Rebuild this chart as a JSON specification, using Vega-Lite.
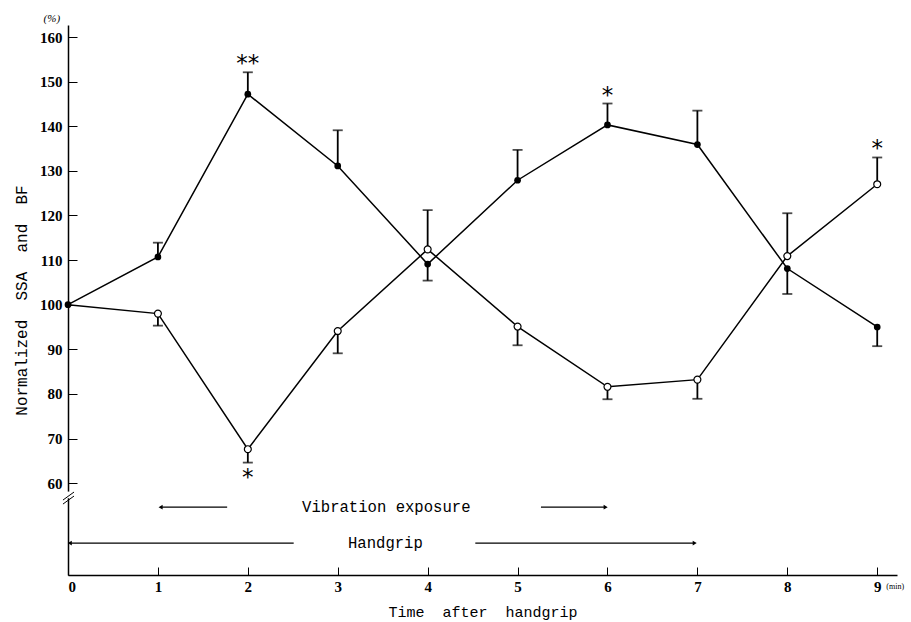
{
  "$schema": "https://vega.github.io/schema/vega-lite/v6.json",
  "width": 829,
  "height": 550,
  "autosize": {"type": "none"},
  "padding": {"left": 68, "top": 25, "right": 14, "bottom": 47},
  "background": "white",
  "config": {"view": {"stroke": null}},
  "datasets": {
    "main": [
      {"t": 0, "series": "filled", "v": 100, "e": null},
      {"t": 1, "series": "filled", "v": 110.7, "e": 113.9},
      {"t": 2, "series": "filled", "v": 147.2, "e": 152.1},
      {"t": 3, "series": "filled", "v": 131.1, "e": 139.1},
      {"t": 4, "series": "filled", "v": 109.1, "e": 105.4},
      {"t": 5, "series": "filled", "v": 127.9, "e": 134.7},
      {"t": 6, "series": "filled", "v": 140.3, "e": 145.1},
      {"t": 7, "series": "filled", "v": 135.9, "e": 143.5},
      {"t": 8, "series": "filled", "v": 108.1, "e": 102.4},
      {"t": 9, "series": "filled", "v": 95.0, "e": 90.7},
      {"t": 0, "series": "open", "v": 100, "e": null},
      {"t": 1, "series": "open", "v": 98.0, "e": 95.3},
      {"t": 2, "series": "open", "v": 67.6, "e": 64.6},
      {"t": 3, "series": "open", "v": 94.1, "e": 89.1},
      {"t": 4, "series": "open", "v": 112.4, "e": 121.2},
      {"t": 5, "series": "open", "v": 95.1, "e": 90.9},
      {"t": 6, "series": "open", "v": 81.6, "e": 78.8},
      {"t": 7, "series": "open", "v": 83.2, "e": 78.9},
      {"t": 8, "series": "open", "v": 110.9, "e": 120.5},
      {"t": 9, "series": "open", "v": 127.0, "e": 133.0}
    ],
    "stars": [
      {"x": 2, "y": 155.2, "label": "**"},
      {"x": 6, "y": 148.1, "label": "*"},
      {"x": 9, "y": 136.2, "label": "*"},
      {"x": 2, "y": 62.4, "label": "*"}
    ],
    "labels": [
      {"x": 3.54, "y": 54.6, "label": "Vibration exposure"},
      {"x": 3.53, "y": 46.55, "label": "Handgrip"}
    ],
    "arrows": [
      {"from": 1.77, "to": 1.03, "y": 54.6, "dir": "left"},
      {"from": 5.26, "to": 5.98, "y": 54.6, "dir": "right"},
      {"from": 2.51, "to": 0.02, "y": 46.55, "dir": "left"},
      {"from": 4.53, "to": 6.97, "y": 46.55, "dir": "right"}
    ],
    "breakgap": [{"x": 0, "y": 56.6, "y2": 58.1}],
    "breaklines": [
      {"x": -0.056, "x2": 0.067, "y": 56.2, "y2": 58.0},
      {"x": -0.056, "x2": 0.067, "y": 55.3, "y2": 57.1}
    ],
    "units": [
      {"x": -0.18, "y": 164.0, "label": "(%)"}
    ],
    "minunit": [
      {"x": 9.2, "y": 36.8, "label": "(min)"}
    ]
  },
  "encoding": {
    "x": {
      "type": "quantitative",
      "scale": {"domain": [0, 9.22], "nice": false, "zero": false}
    },
    "y": {
      "type": "quantitative",
      "scale": {"domain": [39.4, 162.7], "nice": false, "zero": false}
    }
  },
  "layer": [
    {
      "data": {"name": "main"},
      "mark": {"type": "line", "color": "black", "strokeWidth": 1.5},
      "encoding": {
        "x": {
          "field": "t", "type": "quantitative",
          "axis": {
            "values": [0, 1, 2, 3, 4, 5, 6, 7, 8, 9],
            "format": "d",
            "grid": false,
            "domainColor": "black", "domainWidth": 1.5,
            "tickColor": "black", "tickSize": -8, "tickWidth": 1,
            "labelFont": "Liberation Serif", "labelFontWeight": "bold", "labelFontSize": 15,
            "labelColor": "black", "labelPadding": 12,
            "title": "Time\u00a0\u00a0after\u00a0\u00a0handgrip",
            "titleFont": "Liberation Mono", "titleFontSize": 15, "titleFontWeight": "normal",
            "titleColor": "black", "titlePadding": 10
          }
        },
        "y": {
          "field": "v", "type": "quantitative",
          "axis": {
            "values": [60, 70, 80, 90, 100, 110, 120, 130, 140, 150, 160],
            "format": "d",
            "grid": false,
            "domainColor": "black", "domainWidth": 1.5,
            "tickColor": "black", "tickSize": -9, "tickWidth": 1,
            "labelFont": "Liberation Serif", "labelFontWeight": "bold", "labelFontSize": 15,
            "labelColor": "black", "labelPadding": 15,
            "title": "Normalized\u00a0\u00a0SSA\u00a0\u00a0and\u00a0\u00a0BF",
            "titleFont": "Liberation Mono", "titleFontSize": 16, "titleFontWeight": "normal",
            "titleColor": "black", "titlePadding": 10
          }
        },
        "detail": {"field": "series"}
      }
    },
    {
      "data": {"name": "main"},
      "transform": [{"filter": "datum.e != null"}],
      "mark": {"type": "rule", "color": "black", "strokeWidth": 1.8},
      "encoding": {
        "x": {"field": "t", "type": "quantitative"},
        "y": {"field": "v", "type": "quantitative"},
        "y2": {"field": "e"}
      }
    },
    {
      "data": {"name": "main"},
      "transform": [{"filter": "datum.e != null"}],
      "mark": {"type": "tick", "orient": "horizontal", "color": "black", "size": 10, "thickness": 1.8},
      "encoding": {
        "x": {"field": "t", "type": "quantitative"},
        "y": {"field": "e", "type": "quantitative"}
      }
    },
    {
      "data": {"name": "main"},
      "transform": [{"filter": "datum.series == 'filled'"}],
      "mark": {"type": "point", "shape": "circle", "filled": true, "color": "black", "size": 45, "opacity": 1},
      "encoding": {
        "x": {"field": "t", "type": "quantitative"},
        "y": {"field": "v", "type": "quantitative"}
      }
    },
    {
      "data": {"name": "main"},
      "transform": [{"filter": "datum.series == 'open' && datum.t > 0"}],
      "mark": {"type": "point", "shape": "circle", "filled": true, "fill": "white", "stroke": "black", "strokeWidth": 1.2, "size": 48, "opacity": 1},
      "encoding": {
        "x": {"field": "t", "type": "quantitative"},
        "y": {"field": "v", "type": "quantitative"}
      }
    },
    {
      "data": {"name": "stars"},
      "mark": {"type": "text", "font": "DejaVu Sans", "fontSize": 23, "color": "black", "baseline": "middle", "align": "center", "dy": 6},
      "encoding": {
        "x": {"field": "x", "type": "quantitative"},
        "y": {"field": "y", "type": "quantitative"},
        "text": {"field": "label"}
      }
    },
    {
      "data": {"name": "labels"},
      "mark": {"type": "text", "font": "Liberation Mono", "fontSize": 15.6, "color": "black", "baseline": "middle", "align": "center"},
      "encoding": {
        "x": {"field": "x", "type": "quantitative"},
        "y": {"field": "y", "type": "quantitative"},
        "text": {"field": "label"}
      }
    },
    {
      "data": {"name": "arrows"},
      "mark": {"type": "rule", "color": "black", "strokeWidth": 1.2},
      "encoding": {
        "x": {"field": "from", "type": "quantitative"},
        "x2": {"field": "to"},
        "y": {"field": "y", "type": "quantitative"}
      }
    },
    {
      "data": {"name": "arrows"},
      "mark": {"type": "point", "filled": true, "color": "black", "size": 22, "opacity": 1},
      "encoding": {
        "x": {"field": "to", "type": "quantitative"},
        "y": {"field": "y", "type": "quantitative"},
        "shape": {
          "field": "dir", "type": "nominal",
          "scale": {"domain": ["left", "right"], "range": ["triangle-left", "triangle-right"]},
          "legend": null
        }
      }
    },
    {
      "data": {"name": "breakgap"},
      "mark": {"type": "rule", "color": "white", "strokeWidth": 4},
      "encoding": {
        "x": {"field": "x", "type": "quantitative"},
        "y": {"field": "y", "type": "quantitative"},
        "y2": {"field": "y2"}
      }
    },
    {
      "data": {"name": "breaklines"},
      "mark": {"type": "rule", "color": "black", "strokeWidth": 1},
      "encoding": {
        "x": {"field": "x", "type": "quantitative"},
        "x2": {"field": "x2"},
        "y": {"field": "y", "type": "quantitative"},
        "y2": {"field": "y2"}
      }
    },
    {
      "data": {"name": "units"},
      "mark": {"type": "text", "font": "Liberation Serif", "fontStyle": "italic", "fontSize": 11, "color": "black", "baseline": "middle", "align": "center"},
      "encoding": {
        "x": {"field": "x", "type": "quantitative"},
        "y": {"field": "y", "type": "quantitative"},
        "text": {"field": "label"}
      }
    },
    {
      "data": {"name": "minunit"},
      "mark": {"type": "text", "font": "Liberation Serif", "fontSize": 8, "color": "black", "baseline": "middle", "align": "center"},
      "encoding": {
        "x": {"field": "x", "type": "quantitative"},
        "y": {"field": "y", "type": "quantitative"},
        "text": {"field": "label"}
      }
    }
  ]
}
